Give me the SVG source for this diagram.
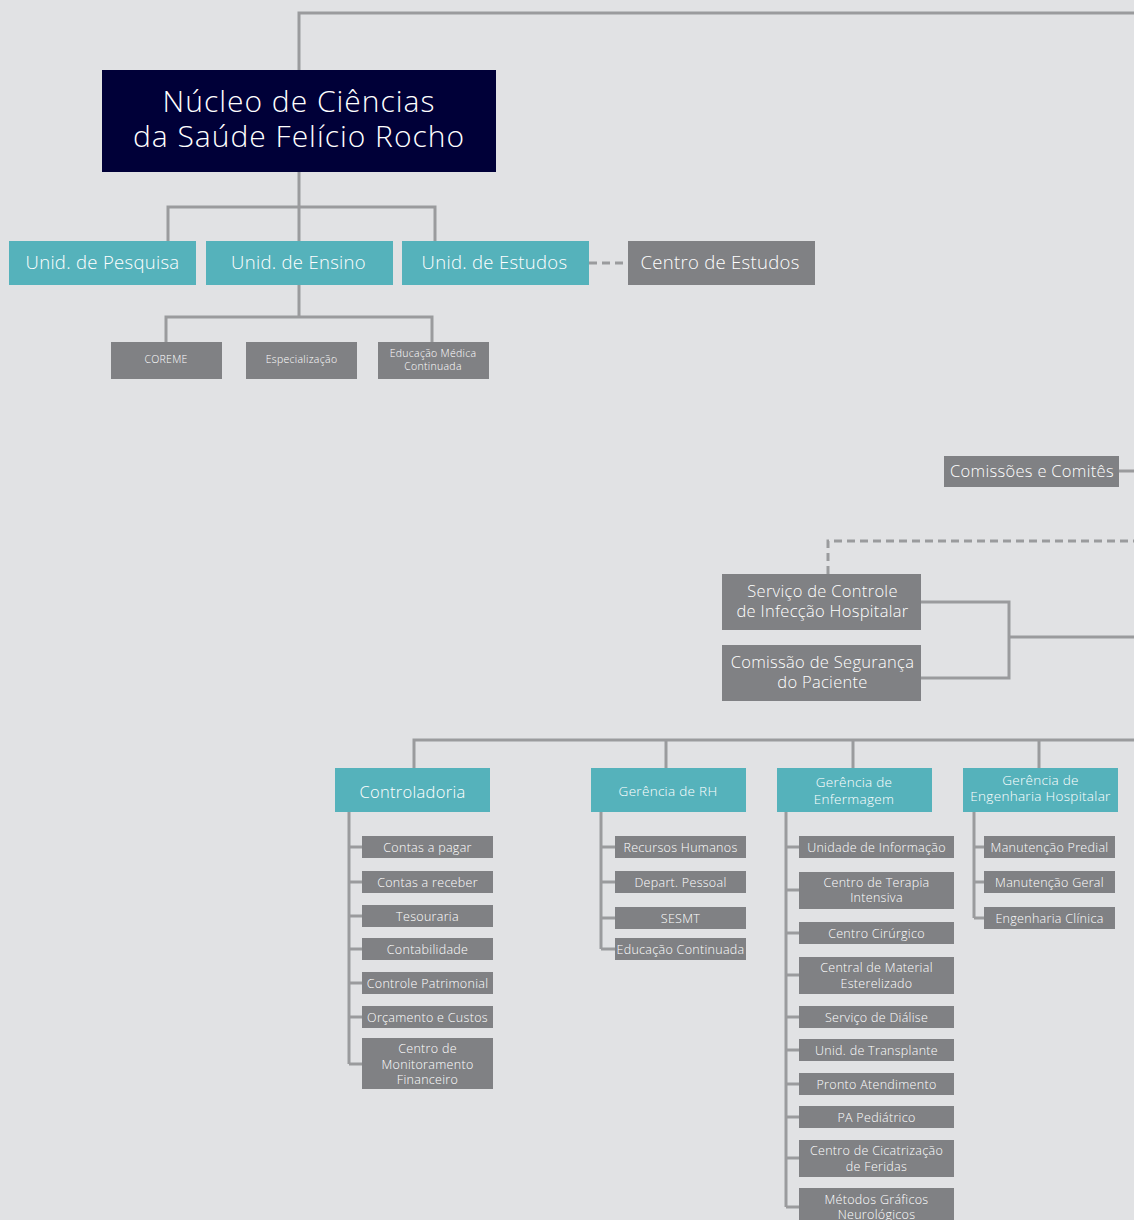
<svg xmlns="http://www.w3.org/2000/svg" width="1134" height="1220" viewBox="0 0 1134 1220">
<style>
text{font-family:"Open Sans","Lato","Liberation Sans",sans-serif;fill:#fff;text-anchor:middle;font-weight:300;letter-spacing:0.3px}
.navy{fill:#000038}
.teal{fill:#55b2bb}
.gray{fill:#808184}
.ln{fill:none;stroke:#9a9b9d;stroke-width:3}
.dash{fill:none;stroke:#9a9b9d;stroke-width:3;stroke-dasharray:8 5}
.t1{font-size:30px;letter-spacing:1px}
.t2{font-size:18.5px}
.t3{font-size:16.5px}
.t4{font-size:13.5px}
.t5{font-size:12.5px}
.t6{font-size:10.5px}
</style>
<rect width="1134" height="1220" fill="#e1e2e4"/>
<g id="connectors">
<path class="ln" d="M299,70 V13 H1134"/>
<path class="ln" d="M299,172 V241 M168,241 V207 H435 V241"/>
<path class="ln" d="M299,285 V317 M166,342 V317 H432 V342"/>
<path class="dash" d="M589,263 H628"/>
<path class="ln" d="M1119,471 H1134"/>
<path class="dash" d="M828,574 V541 H1134"/>
<path class="ln" d="M921,602 H1009 V678 H921 M1009,637 H1134"/>
<path class="ln" d="M414,768 V740 H1134 M666,740 V768 M853,740 V768 M1039,740 V768"/>
<path class="ln" d="M349,812 V1064 M349,847 H362 M349,882 H362 M349,916 H362 M349,949 H362 M349,983 H362 M349,1017 H362 M349,1064 H362"/>
<path class="ln" d="M601,812 V949 M601,847 H615 M601,882 H615 M601,918 H615 M601,949 H615"/>
<path class="ln" d="M786,812 V1207 M786,847 H799 M786,890 H799 M786,933 H799 M786,975 H799 M786,1017 H799 M786,1050 H799 M786,1084 H799 M786,1117 H799 M786,1158 H799 M786,1207 H799"/>
<path class="ln" d="M974,812 V918 M974,847 H984 M974,882 H984 M974,918 H984"/>
</g>
<g id="nucleo"><rect class="navy" x="102" y="70" width="394" height="102"/><text class="t1" x="299" y="112">Núcleo de Ciências</text><text class="t1" x="299" y="147">da Saúde Felício Rocho</text></g>
<g id="pesquisa"><rect class="teal" x="9" y="241" width="187" height="44"/><text class="t2" x="102.5" y="269">Unid. de Pesquisa</text></g>
<g id="ensino"><rect class="teal" x="206" y="241" width="187" height="44"/><text class="t2" x="298.5" y="269">Unid. de Ensino</text></g>
<g id="estudos"><rect class="teal" x="402" y="241" width="187" height="44"/><text class="t2" x="494.5" y="269">Unid. de Estudos</text></g>
<g id="centro-estudos"><rect class="gray" x="628" y="241" width="187" height="44"/><text class="t2" x="720" y="269">Centro de Estudos</text></g>
<g id="coreme"><rect class="gray" x="111" y="342" width="111" height="37"/><text class="t6" x="166" y="363">COREME</text></g>
<g id="especializacao"><rect class="gray" x="246" y="342" width="111" height="37"/><text class="t6" x="301.5" y="363">Especialização</text></g>
<g id="educacao-medica"><rect class="gray" x="378" y="342" width="111" height="37"/><text class="t6" x="433" y="357">Educação Médica</text><text class="t6" x="433" y="370">Continuada</text></g>
<g id="comissoes"><rect class="gray" x="944" y="456" width="175" height="31"/><text class="t3" x="1032" y="477">Comissões e Comitês</text></g>
<g id="scih"><rect class="gray" x="722" y="574" width="199" height="56"/><text class="t3" x="822.5" y="597">Serviço de Controle</text><text class="t3" x="822.5" y="617">de Infecção Hospitalar</text></g>
<g id="seguranca"><rect class="gray" x="722" y="645" width="199" height="56"/><text class="t3" x="822.5" y="668">Comissão de Segurança</text><text class="t3" x="822.5" y="688">do Paciente</text></g>
<g id="controladoria"><rect class="teal" x="335" y="768" width="155" height="44"/><text class="t3" x="412.5" y="798">Controladoria</text></g>
<g id="rh"><rect class="teal" x="591" y="768" width="155" height="44"/><text class="t4" x="668" y="796">Gerência de RH</text></g>
<g id="enfermagem"><rect class="teal" x="777" y="768" width="155" height="44"/><text class="t4" x="854" y="787">Gerência de</text><text class="t4" x="854" y="804">Enfermagem</text></g>
<g id="engenharia"><rect class="teal" x="963" y="768" width="155" height="44"/><text class="t4" x="1040.5" y="785">Gerência de</text><text class="t4" x="1040.5" y="801">Engenharia Hospitalar</text></g>
<g id="contas-pagar"><rect class="gray" x="362" y="836" width="131" height="22"/><text class="t5" x="427.5" y="851.5">Contas a pagar</text></g>
<g id="contas-receber"><rect class="gray" x="362" y="871" width="131" height="22"/><text class="t5" x="427.5" y="886.5">Contas a receber</text></g>
<g id="tesouraria"><rect class="gray" x="362" y="905" width="131" height="22"/><text class="t5" x="427.5" y="920.5">Tesouraria</text></g>
<g id="contabilidade"><rect class="gray" x="362" y="938" width="131" height="22"/><text class="t5" x="427.5" y="953.5">Contabilidade</text></g>
<g id="patrimonial"><rect class="gray" x="362" y="972" width="131" height="22"/><text class="t5" x="427.5" y="987.5">Controle Patrimonial</text></g>
<g id="orcamento"><rect class="gray" x="362" y="1006" width="131" height="22"/><text class="t5" x="427.5" y="1021.5">Orçamento e Custos</text></g>
<g id="monitoramento"><rect class="gray" x="362" y="1038" width="131" height="51"/><text class="t5" x="427.5" y="1053">Centro de</text><text class="t5" x="427.5" y="1068.5">Monitoramento</text><text class="t5" x="427.5" y="1084">Financeiro</text></g>
<g id="recursos-humanos"><rect class="gray" x="615" y="836" width="131" height="22"/><text class="t5" x="680.5" y="851.5">Recursos Humanos</text></g>
<g id="depart-pessoal"><rect class="gray" x="615" y="871" width="131" height="22"/><text class="t5" x="680.5" y="886.5">Depart. Pessoal</text></g>
<g id="sesmt"><rect class="gray" x="615" y="907" width="131" height="22"/><text class="t5" x="680.5" y="922.5">SESMT</text></g>
<g id="educacao-continuada"><rect class="gray" x="615" y="938" width="131" height="22"/><text class="t5" x="680.5" y="953.5">Educação Continuada</text></g>
<g id="unidade-informacao"><rect class="gray" x="799" y="836" width="155" height="22"/><text class="t5" x="876.5" y="851.5">Unidade de Informação</text></g>
<g id="cti"><rect class="gray" x="799" y="872" width="155" height="37"/><text class="t5" x="876.5" y="887">Centro de Terapia</text><text class="t5" x="876.5" y="902">Intensiva</text></g>
<g id="centro-cirurgico"><rect class="gray" x="799" y="922" width="155" height="22"/><text class="t5" x="876.5" y="937.5">Centro Cirúrgico</text></g>
<g id="cme"><rect class="gray" x="799" y="957" width="155" height="37"/><text class="t5" x="876.5" y="972">Central de Material</text><text class="t5" x="876.5" y="988">Esterelizado</text></g>
<g id="dialise"><rect class="gray" x="799" y="1006" width="155" height="22"/><text class="t5" x="876.5" y="1021.5">Serviço de Diálise</text></g>
<g id="transplante"><rect class="gray" x="799" y="1039" width="155" height="22"/><text class="t5" x="876.5" y="1054.5">Unid. de Transplante</text></g>
<g id="pronto-atendimento"><rect class="gray" x="799" y="1073" width="155" height="22"/><text class="t5" x="876.5" y="1088.5">Pronto Atendimento</text></g>
<g id="pa-pediatrico"><rect class="gray" x="799" y="1106" width="155" height="22"/><text class="t5" x="876.5" y="1121.5">PA Pediátrico</text></g>
<g id="cicatrizacao"><rect class="gray" x="799" y="1140" width="155" height="37"/><text class="t5" x="876.5" y="1155">Centro de Cicatrização</text><text class="t5" x="876.5" y="1171">de Feridas</text></g>
<g id="metodos-graficos"><rect class="gray" x="799" y="1188" width="155" height="37"/><text class="t5" x="876.5" y="1204">Métodos Gráficos</text><text class="t5" x="876.5" y="1219">Neurológicos</text></g>
<g id="manutencao-predial"><rect class="gray" x="984" y="836" width="131" height="22"/><text class="t5" x="1049.5" y="851.5">Manutenção Predial</text></g>
<g id="manutencao-geral"><rect class="gray" x="984" y="871" width="131" height="22"/><text class="t5" x="1049.5" y="886.5">Manutenção Geral</text></g>
<g id="engenharia-clinica"><rect class="gray" x="984" y="907" width="131" height="22"/><text class="t5" x="1049.5" y="922.5">Engenharia Clínica</text></g>
</svg>
